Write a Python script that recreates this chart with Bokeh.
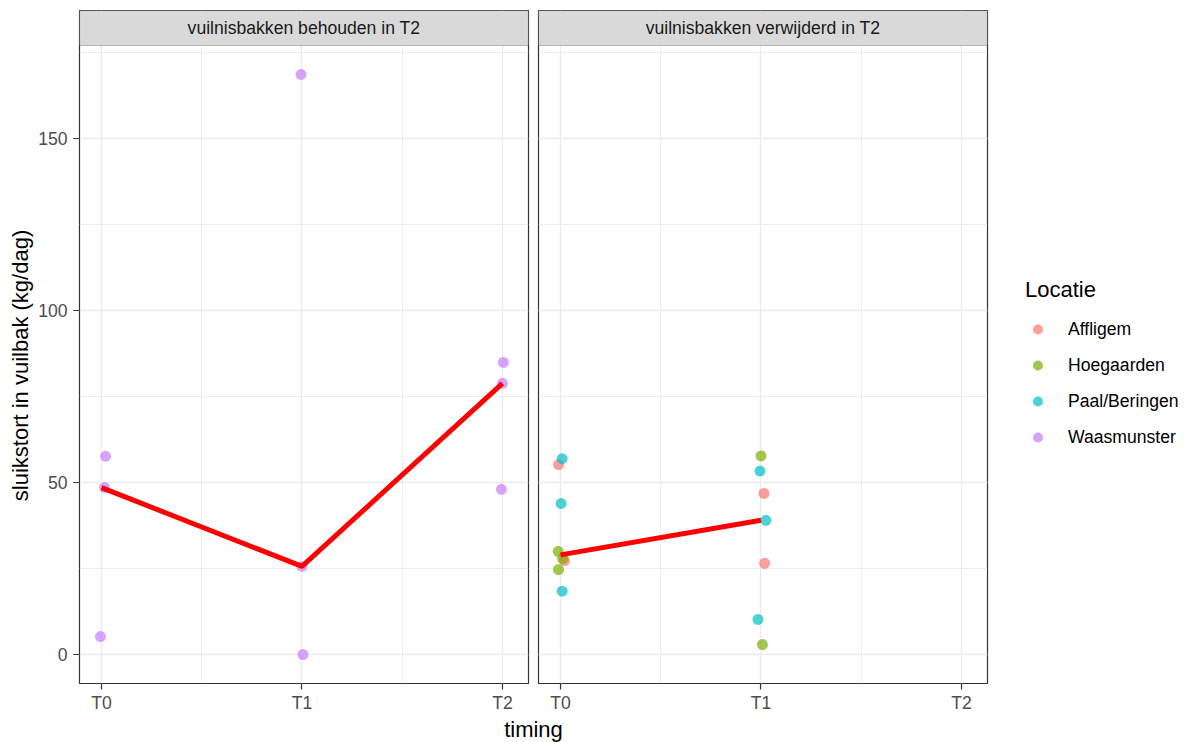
import numpy as np
from bokeh.plotting import figure
from bokeh.models import (Range1d, FixedTicker, BoxAnnotation, Label, Legend,
                          LegendItem, Grid)
from bokeh.layouts import row, column
from bokeh.embed import file_html
from bokeh.resources import INLINE

# ---------------- data ----------------
timing_labels = ["T0", "T1", "T2"]
strip_labels = ["vuilnisbakken behouden in T2", "vuilnisbakken verwijderd in T2"]
locaties = ["Affligem", "Hoegaarden", "Paal/Beringen", "Waasmunster"]
kleuren = ["#F8766D", "#7CAE00", "#00BFC4", "#C77CFF"]

# vuilnisbakken behouden in T2 (Waasmunster), jittered timing position
waas_x = [1.02, 1.015, 0.995, 1.995, 2.0, 2.005, 3.005, 3.0, 2.995]
waas_y = [57.6, 48.5, 5.2, 168.6, 25.6, 0.0, 84.9, 78.8, 48.0]

# vuilnisbakken verwijderd in T2
aff_x = [0.99, 1.02, 2.015, 2.018]
aff_y = [55.2, 27.3, 46.8, 26.5]
hoe_x = [0.988, 1.01, 0.99, 2.0, 2.007]
hoe_y = [30.0, 27.9, 24.7, 57.7, 2.9]
paal_x = [1.008, 1.003, 1.008, 1.995, 2.025, 1.985]
paal_y = [56.9, 43.9, 18.4, 53.3, 39.0, 10.2]

# ---------------- layout ----------------
FONT = "Liberation Sans"
FRAME_W = 449
PANEL_H = 638
STRIP_H = 35
TOP = 10
YLAB_W = 35
LEFT_A = 79 - YLAB_W
RIGHT_A = 2
GAP = 10 - RIGHT_A
RIGHT_B = 200
BOTTOM = 30
TOTAL_W, TOTAL_H = 1187, 742
POINT_SIZE = 11

Y_LIM = (-8.43, 177.0)
X_LIM = (0.89, 3.13)
px_per_y = PANEL_H / (Y_LIM[1] - Y_LIM[0])
Y_END = Y_LIM[1] + STRIP_H / px_per_y
FRAME_H = PANEL_H + STRIP_H
FIG_H = TOP + FRAME_H + BOTTOM

y_ticks = [0, 50, 100, 150]
y_minor = [25, 75, 125, 175]
x_ticks = [1, 2, 3]
x_minor = [1.5, 2.5]


def median_line(xs, ys):
    groups = {}
    for x, y in zip(xs, ys):
        groups.setdefault(int(round(x)), []).append(y)
    keys = sorted(groups)
    return keys, [float(np.median(groups[k])) for k in keys]


def blank_figure(w, h):
    f = figure(width=w, height=h, frame_width=w, frame_height=h,
               x_range=Range1d(0, w), y_range=Range1d(0, h),
               x_axis_location=None, y_axis_location=None,
               output_backend="svg", toolbar_location=None, min_border=0)
    f.grid.visible = False
    f.outline_line_color = None
    return f


def make_panel(label, left, right, with_y_axis):
    p = figure(width=left + FRAME_W + right, height=FIG_H,
               frame_width=FRAME_W, frame_height=FRAME_H,
               x_range=Range1d(*X_LIM), y_range=Range1d(Y_LIM[0], Y_END),
               output_backend="svg", toolbar_location=None,
               y_axis_location="left" if with_y_axis else None,
               min_border_left=left, min_border_right=right,
               min_border_top=TOP, min_border_bottom=BOTTOM)
    p.background_fill_color = "white"
    p.border_fill_color = "white"
    p.outline_line_color = "#333333"
    p.outline_line_width = 1.2

    # x axis
    xax = p.xaxis[0]
    xax.ticker = FixedTicker(ticks=x_ticks, minor_ticks=x_minor)
    xax.major_label_overrides = {i + 1: t for i, t in enumerate(timing_labels)}
    for ax in [xax] + (list(p.yaxis) if with_y_axis else []):
        ax.axis_line_color = None
        ax.major_tick_line_color = "#333333"
        ax.major_tick_line_width = 1.2
        ax.major_tick_out = 6
        ax.major_tick_in = 0
        ax.minor_tick_line_color = None
        ax.major_label_text_font = FONT
        ax.major_label_text_font_size = "17.6px"
        ax.major_label_text_color = "#4D4D4D"
    xax.major_label_standoff = 3
    if with_y_axis:
        yax = p.yaxis[0]
        yax.ticker = FixedTicker(ticks=y_ticks, minor_ticks=y_minor)
        yax.major_label_standoff = 6
        yax.major_label_orientation = "horizontal"

    # grids
    p.xgrid[0].ticker = FixedTicker(ticks=x_ticks, minor_ticks=x_minor)
    if with_y_axis:
        ygrid = p.ygrid[0]
    else:
        ygrid = Grid(dimension=1)
        p.add_layout(ygrid)
    ygrid.ticker = FixedTicker(ticks=y_ticks, minor_ticks=y_minor)
    for g in (p.xgrid[0], ygrid):
        g.grid_line_color = "#EBEBEB"
        g.grid_line_width = 1.3
        g.minor_grid_line_color = "#EBEBEB"
        g.minor_grid_line_width = 0.9

    # facet strip
    p.add_layout(BoxAnnotation(bottom=Y_LIM[1], top=Y_END,
                               left=X_LIM[0], right=X_LIM[1],
                               fill_color="#D9D9D9", fill_alpha=1.0,
                               line_color="#333333", line_width=1.2,
                               level="annotation"))
    p.add_layout(Label(x=(X_LIM[0] + X_LIM[1]) / 2, y=(Y_LIM[1] + Y_END) / 2,
                       text=label, text_align="center", text_baseline="middle",
                       text_font=FONT, text_font_size="17.6px",
                       text_color="#1A1A1A"))
    return p


# ---------------- y axis title ----------------
py = blank_figure(YLAB_W, FIG_H)
panel_mid_from_bottom = BOTTOM + PANEL_H / 2 + 9
py.add_layout(Label(x=20, y=panel_mid_from_bottom,
                    text="sluikstort in vuilbak (kg/dag)", angle=np.pi / 2,
                    text_align="center", text_baseline="middle",
                    text_font=FONT, text_font_size="22px", text_color="black"))

# ---------------- left panel ----------------
pa = make_panel(strip_labels[0], LEFT_A, RIGHT_A, True)
pa.scatter(waas_x, waas_y, size=POINT_SIZE, color=kleuren[3], alpha=0.7, line_width=0)
mx, my = median_line(waas_x, waas_y)
pa.line(mx, my, line_color="red", line_width=5)

# ---------------- right panel ----------------
pb = make_panel(strip_labels[1], GAP, RIGHT_B, False)
series_b = [(aff_x, aff_y, 0), (hoe_x, hoe_y, 1), (paal_x, paal_y, 2)]
renderers = []
for xs, ys, k in series_b:
    r = pb.scatter(xs, ys, size=POINT_SIZE, color=kleuren[k], alpha=0.7, line_width=0)
    renderers.append(r)
# Waasmunster has no points in this panel; this renderer only supplies its legend key
r_waas = pb.scatter(x=[np.nan], y=[np.nan], size=POINT_SIZE, color=kleuren[3],
                    alpha=0.7, line_width=0)
renderers.append(r_waas)

all_bx = aff_x + hoe_x + paal_x
all_by = aff_y + hoe_y + paal_y
mx, my = median_line(all_bx, all_by)
pb.line(mx, my, line_color="red", line_width=5)

legend = Legend(items=[LegendItem(label=loc, renderers=[r])
                       for loc, r in zip(locaties, renderers)],
                location=(38, 228), title="Locatie",
                title_text_font=FONT, title_text_font_size="22px",
                title_text_font_style="normal", title_text_color="black",
                title_standoff=8,
                label_text_font=FONT, label_text_font_size="17.6px",
                label_text_color="black",
                glyph_width=25, glyph_height=36, label_height=36,
                label_standoff=18, spacing=0, padding=0, margin=0,
                border_line_color=None, background_fill_alpha=0)
pb.add_layout(legend, "right")

# ---------------- x axis title ----------------
px = blank_figure(TOTAL_W, TOTAL_H - FIG_H)
px.add_layout(Label(x=YLAB_W + LEFT_A + (2 * FRAME_W + RIGHT_A + GAP) / 2,
                    y=(TOTAL_H - FIG_H) - 14,
                    text="timing", text_align="center", text_baseline="middle",
                    text_font=FONT, text_font_size="22px", text_color="black"))

layout = column(row(py, pa, pb), px)
open("out.html", "w").write(file_html(layout, INLINE))
